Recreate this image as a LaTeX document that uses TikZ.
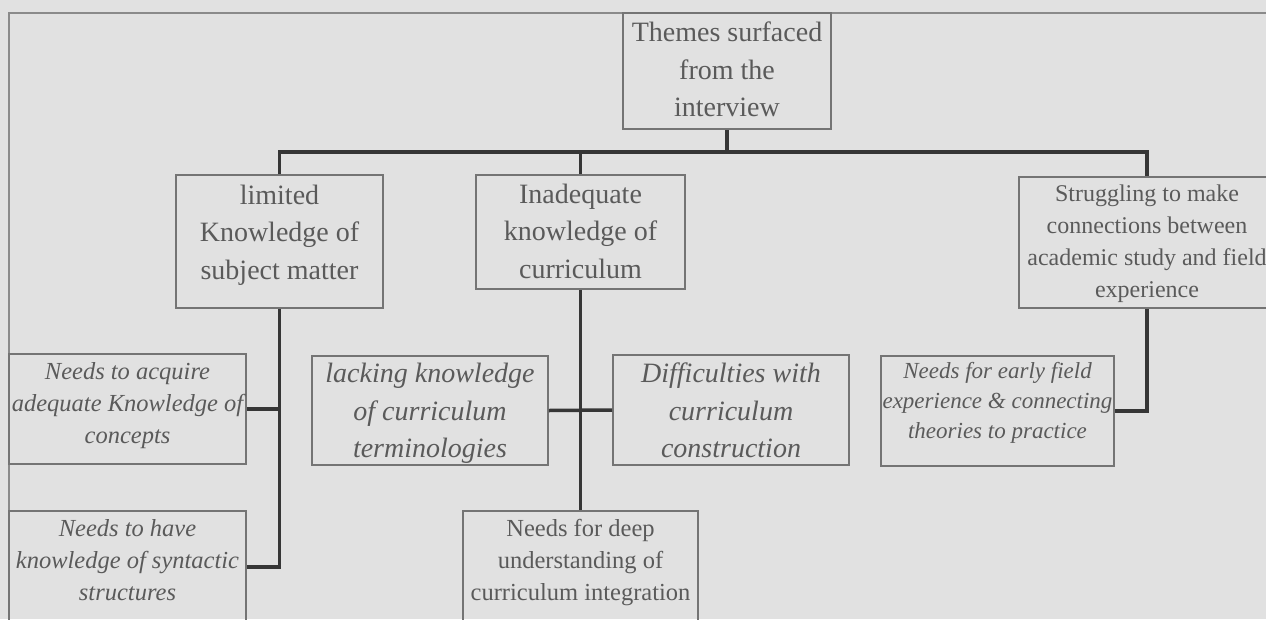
\documentclass[tikz,border=0pt]{standalone}
\usepackage{fontspec}
\setmainfont{Liberation Serif}
\definecolor{bgc}{HTML}{E1E1E1}
\definecolor{framec}{HTML}{8A8A8A}
\definecolor{boxc}{HTML}{747474}
\definecolor{connc}{HTML}{363636}
\definecolor{txtc}{HTML}{5A5A5A}
\newcommand\fsbig{\fontsize{28pt}{37.5pt}\selectfont}
\newcommand\fsmid{\fontsize{24.5pt}{32pt}\selectfont}
\newcommand\fsmidb{\fontsize{24pt}{32pt}\selectfont}
\newcommand\fssmall{\fontsize{23pt}{30pt}\selectfont}
\begin{document}
\begin{tikzpicture}[x=1pt,y=-1pt,
  box/.style={draw=boxc, line width=1.8pt, rectangle, inner sep=0pt},
  txt/.style={text=txtc, inner sep=0pt, anchor=north, align=center},
  conn/.style={draw=connc, line width=3.5pt, line join=miter}]
\fill[bgc] (0,0) rectangle (1266,619);
\useasboundingbox (0,0) rectangle (1266,619);
\clip (0,0) rectangle (1266,619);
% outer frame
\draw[framec, line width=2pt] (9,625) -- (9,13) -- (1270,13);
% boxes
\node[box, minimum width=208, minimum height=116] (root) at (727,71) {};
\node[box, minimum width=207, minimum height=133] (b1) at (279.5,241.5) {};
\node[box, minimum width=209, minimum height=114] (b2) at (580.5,232) {};
\node[box, minimum width=256, minimum height=131] (b3) at (1147,242.5) {};
\node[box, minimum width=237, minimum height=110] (acq) at (127.5,409) {};
\node[box, minimum width=236, minimum height=109] (lack) at (430,410.5) {};
\node[box, minimum width=236, minimum height=110] (diff) at (731,410) {};
\node[box, minimum width=233, minimum height=110] (early) at (997.5,411) {};
\node[box, minimum width=237, minimum height=112] (have) at (127.5,567) {};
\node[box, minimum width=235, minimum height=112] (deep) at (580.5,567) {};
% texts
\node[txt, font=\fsbig] (troot) at (727,15.5) {\strut Themes surfaced\\from the\\interview};
\node[txt, font=\fsbig] (tb1) at (279.5,177.8) {\strut limited\\Knowledge of\\subject matter};
\node[txt, font=\fsbig] (tb2) at (580.5,176.8) {\strut Inadequate\\knowledge of\\curriculum};
\node[txt, font=\fsmidb] (tb3) at (1147,179.3) {\strut Struggling to make\\connections between\\academic study and field\\experience};
\node[txt, font=\fsmid\itshape] (tacq) at (127.5,357.1) {\strut Needs to acquire\\adequate Knowledge of\\concepts};
\node[txt, font=\fsbig\itshape] (tlack) at (430,356.3) {\strut lacking knowledge\\of curriculum\\terminologies};
\node[txt, font=\fsbig\itshape] (tdiff) at (731,356.3) {\strut Difficulties with\\curriculum\\construction};
\node[txt, font=\fssmall\itshape] (tearly) at (997.5,357.5) {\strut Needs for early field\\experience \& connecting\\theories to practice};
\node[txt, font=\fsmid\itshape] (thave) at (127.5,513.6) {\strut Needs to have\\knowledge of syntactic\\structures};
\node[txt, font=\fsmid] (tdeep) at (580.5,513.6) {\strut Needs for deep\\understanding of\\curriculum integration};
% connectors
\coordinate (bus) at (0,152);
\draw[conn] (b1.north) -- (b1.north |- bus) -- (b3.north |- bus) -- (b3.north);
\draw[conn] (root.south) -- (root.south |- bus);
\draw[conn] (b2.north) -- (b2.north |- bus);
\draw[conn] (b1.south) |- (have.east);
\draw[conn] (acq.east) -- (acq.east -| b1.south);
\draw[conn] (b2.south) -- (deep.north);
\draw[conn] (lack.east) -- (diff.west);
\draw[conn] (b3.south) |- (early.east);
\end{tikzpicture}
\end{document}
